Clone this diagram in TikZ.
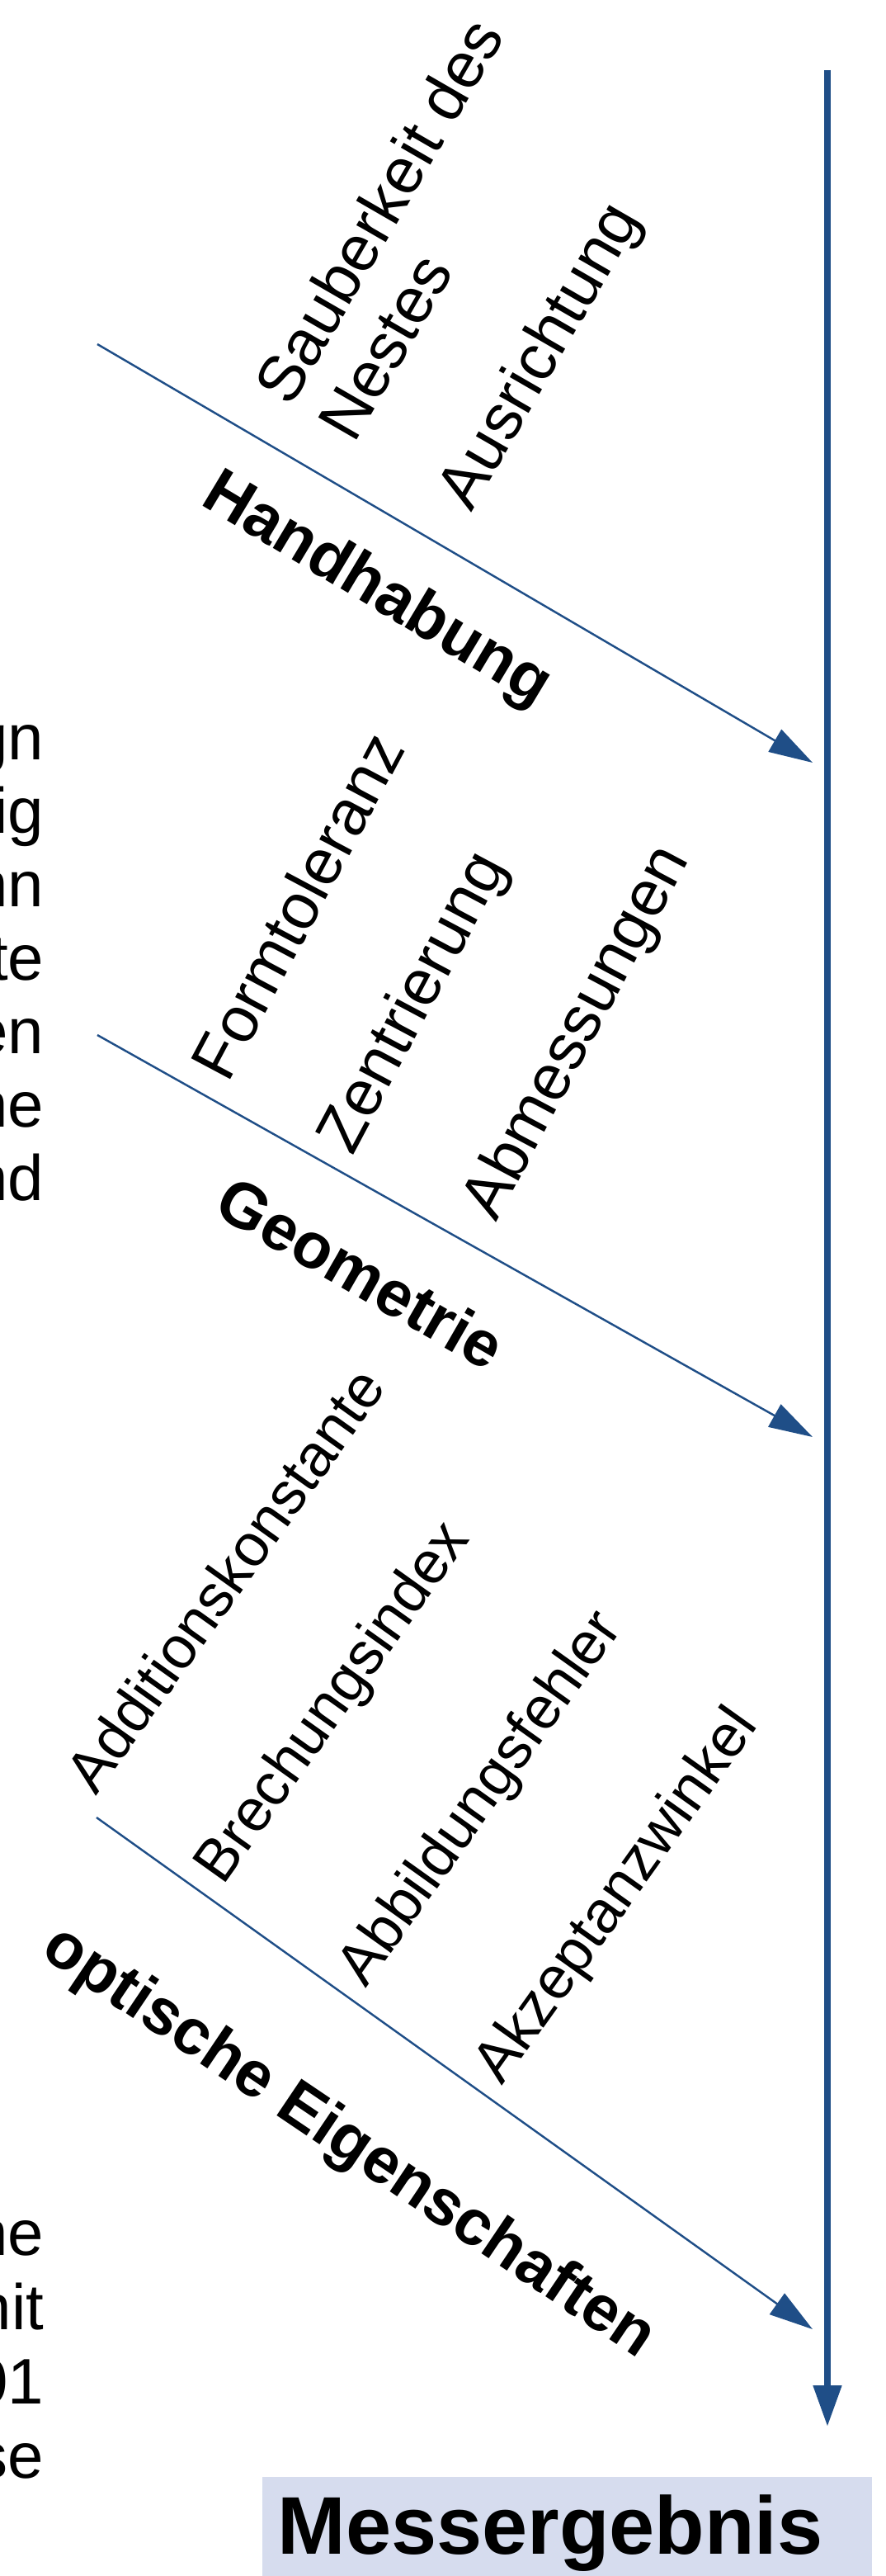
\documentclass[tikz,border=0pt]{standalone}
\usepackage{fontspec}
\setmainfont{Liberation Sans}
\usetikzlibrary{arrows.meta, positioning}
\definecolor{fishblue}{RGB}{31,78,135}
\definecolor{boxfill}{RGB}{214,220,238}
\newcommand{\lblsize}{\fontsize{22.2}{25.3}\selectfont}
\newcommand{\optsize}{\fontsize{20.5}{24}\selectfont}

\begin{document}
\begin{tikzpicture}[
    spine/.style={fishblue, line width=2.3pt, -{Triangle[length=0.5cm, width=0.33cm]}},
    bone/.style={fishblue, line width=0.7pt, -{Triangle[length=0.53cm, width=0.31cm]}},
    cause/.style={font=\lblsize, rotate=#1, inner sep=0pt, align=left},
    cause/.default=60,
    cat/.style={font=\lblsize\bfseries, inner sep=0pt},
    frag/.style={font=\lblsize, anchor=base east, inner sep=0pt},
]
\useasboundingbox (0,0) rectangle (10.73,-31.21);
% === Spine ===
\coordinate (top) at (10.03,-0.85);
\coordinate (end) at (10.03,-29.40);
\draw[spine] (top) -- (end);
% === Bones ===
\coordinate (hs) at (1.18,-4.17);
\coordinate (ht) at (9.85,-9.24);
\coordinate (gs) at (1.18,-12.54);
\coordinate (gt) at (9.85,-17.41);
\coordinate (os) at (1.17,-22.02);
\coordinate (ot) at (9.85,-28.22);
\draw[bone] (hs) -- (ht);
\draw[bone] (gs) -- (gt);
\draw[bone] (os) -- (ot);
% Handhabung
\node[cause] (sauber) at (4.97,-2.77) {Sauberkeit des\\Nestes};
\node[cause] (ausr) at (6.57,-4.33) {Ausrichtung};
\node[cat, rotate=-31] (hand) at (4.56,-7.16) {Handhabung};
% Geometrie
\node[cause=62] (form) at (3.60,-10.97) {Formtoleranz};
\node[cause=62] (zentr) at (5.03,-12.16) {Zentrierung};
\node[cause=62] (abm) at (7.01,-12.52) {Abmessungen};
\node[cat, rotate=-30] (geo) at (4.38,-15.42) {Geometrie};
% optische Eigenschaften
\node[cause=54.5, font=\optsize, anchor=base west] (addk) at (1.16,-21.77) {Additionskonstante};
\node[cause=54.5, font=\optsize, anchor=base west] (brech) at (2.70,-22.86) {Brechungsindex};
\node[cause=54.5, font=\optsize, anchor=base west] (abb) at (4.43,-24.10) {Abbildungsfehler};
\node[cause=54.5, font=\optsize, anchor=base west] (akz) at (6.08,-25.28) {Akzeptanzwinkel};
\node[cat, rotate=-34] (opt) at (4.22,-25.97) {optische Eigenschaften};
% === Text cut off at the left edge ===
\foreach \t [count=\i] in {gn,ig,nn,te,en,ne,nd} {
    \node[frag] (fa\i) at (0.54,{-9.20-0.89*(\i-1)}) {\t};
}
\foreach \t [count=\i] in {ne,nit,01,se} {
    \node[frag] (fb\i) at (0.54,{-27.32-0.9*(\i-1)}) {\t};
}
% === Result ===
\fill[boxfill] (3.18,-30.01) rectangle (10.57,-31.21);
\node[font=\fontsize{28.2}{33}\selectfont\bfseries] (result) at (6.67,-30.69) {Messergebnis};
\end{tikzpicture}
\end{document}
